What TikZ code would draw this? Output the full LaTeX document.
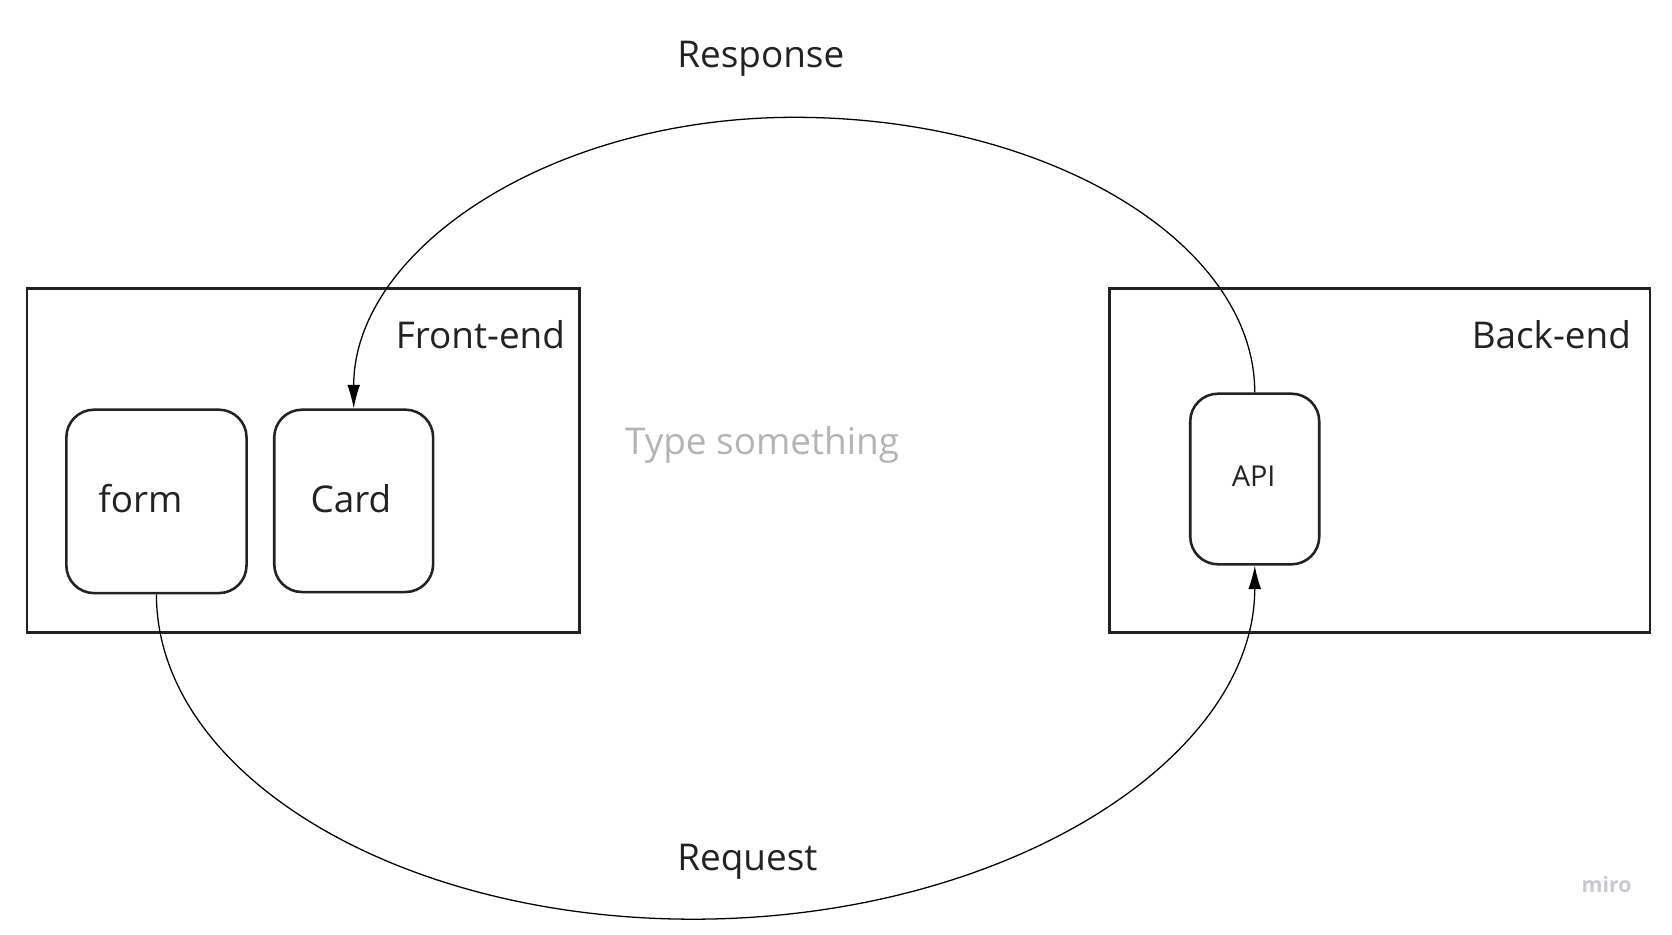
\documentclass[tikz,border=0pt]{standalone}
\usepackage{fontspec}
\setmainfont{Open Sans}
\usetikzlibrary{arrows.meta}
\definecolor{ink}{HTML}{222222}
\definecolor{ghost}{HTML}{B4B4B4}
\definecolor{wm}{HTML}{C8C9D2}
\tikzset{
  frame/.style={draw=ink, line width=2.6pt, inner sep=0pt, anchor=north west},
  comp/.style={draw=ink, line width=2.4pt, rounded corners=26pt, inner sep=0pt, anchor=north west},
  lbl/.style={anchor=base west, inner sep=0pt, text=ink, font=\fontsize{34.6}{40}\selectfont},
  conn/.style={draw=black, line width=1.2pt},
  tip/.style={-{Latex[length=22pt,width=12pt]}}
}
\begin{document}
\begin{tikzpicture}[x=1pt,y=-1pt]
\useasboundingbox (0,0) rectangle (1568,876);
% containers
\node[frame, minimum width=518pt, minimum height=323pt] (fe) at (24,269) {};
\node[frame, minimum width=507pt, minimum height=323pt] (be) at (1039,269) {};
% components
\node[comp, minimum width=169pt, minimum height=172pt] (form) at (61,383) {};
\node[comp, minimum width=149pt, minimum height=171pt] (card) at (256,383) {};
\node[comp, minimum width=121pt, minimum height=160pt] (api) at (1115,368) {};
% labels
\node[lbl] (tfe) at (371,327) {Front-end};
\node[lbl] (tbe) at (1380,327) {Back-end};
\node[lbl] (tform) at (92,481) {form};
\node[lbl] (tcard) at (291,481) {Card};
\node[lbl, font=\fontsize{27}{32}\selectfont] (tapi) at (1155,456) {API};
\node[lbl] (tresp) at (635,63) {Response};
\node[lbl] (treq) at (635,816) {Request};
\node[lbl, text=ghost] (ttype) at (586,426) {Type something};
\node[lbl, text=wm, font=\fontsize{20}{24}\selectfont\bfseries] (tmiro) at (1483,837) {miro};
% connectors
\coordinate (topc) at (745,110);
\coordinate (botc) at (650,862);
\draw[conn, tip] (api.north) .. controls +(0,-141) and +(237,0) .. (topc)
  .. controls +(-229,0) and +(0,-149) .. (card.north);
\draw[conn, tip] (form.south) .. controls +(0,168) and +(-278,0) .. (botc)
  .. controls +(290,0) and +(0,183) .. (api.south);
\end{tikzpicture}
\end{document}
